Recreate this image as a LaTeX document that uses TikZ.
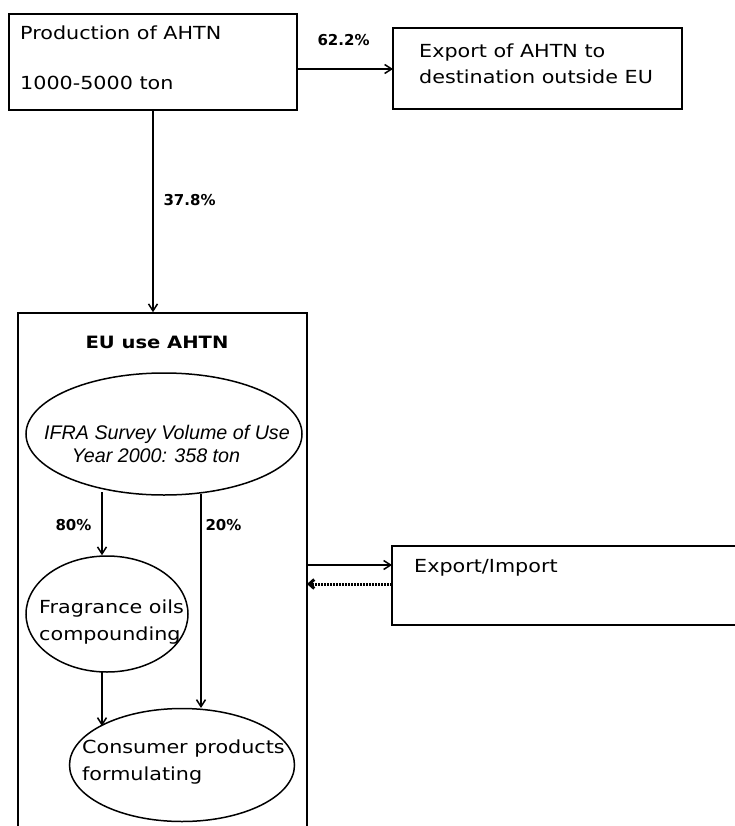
\documentclass[tikz,border=0pt]{standalone}
\usepackage{fontspec}
\setmainfont[FakeStretch=1.15]{DejaVu Sans}
\newfontfamily\lblfont{DejaVu Sans}
\newfontfamily\arialfont{Liberation Sans}
\usetikzlibrary{shapes.geometric,arrows.meta}
\begin{document}
\begin{tikzpicture}[x=1pt,y=-1pt,
  box/.style={draw,line width=1.5pt,inner sep=0pt},
  oval/.style={draw,ellipse,line width=1.5pt,inner sep=0pt},
  lbl/.style={font=\lblfont\fontsize{15}{16}\selectfont\bfseries,anchor=west},
  txt/.style={font=\fontsize{18}{26.5}\selectfont,anchor=west,inner sep=0pt},
  arr/.style={line width=1.5pt,-{Straight Barb[length=7pt,width=9pt]}}]
\useasboundingbox (0,0) rectangle (734,826);
% boxes
\node[box,minimum width=288pt,minimum height=96pt] (prod) at (153,62) {};
\node[txt] (prodt1) at (20,33) {Production of AHTN};
\node[txt] (prodt2) at (20,83) {1000-5000 ton};
\node[box,minimum width=289pt,minimum height=81pt] (exp) at (537.5,68.5) {};
\node[txt,align=left] (expt) at (419,64) {Export of AHTN to\\destination outside EU};
\node[box,minimum width=289pt,minimum height=530pt] (eu) at (162.5,578) {};
\node[font=\fontsize{17}{20}\selectfont\bfseries] (eut) at (157,342) {EU use AHTN};
\node[box,minimum width=360pt,minimum height=79pt] (ei) at (572,585.5) {};
\node[txt] (eit) at (414,568) {Export/Import};
% ellipses
\node[oval,minimum width=276pt,minimum height=122pt] (ifra) at (164,434) {};
\node[font=\arialfont\itshape\fontsize{19.7}{23}\selectfont,align=center] (ifrat) at (167,444) {IFRA Survey Volume of Use\\Year 2000: 358 ton\hspace*{22pt}};
\node[oval,minimum width=162pt,minimum height=116pt] (frag) at (107,614) {};
\node[txt,align=left] (fragt) at (39,622) {Fragrance oils\\compounding};
\node[oval,minimum width=225pt,minimum height=113pt] (cons) at (182,765) {};
\node[txt,align=left] (const) at (82,762) {Consumer products\\formulating};
% connectors
\coordinate (a1) at (297,69);
\coordinate (a2) at (393,69);
\draw[arr] (a1) -- (a2);
\node[lbl] (p62) at (314,40) {62.2\%};
\draw[arr] (prod.south) -- (eu.north -| prod.south);
\node[lbl] (p378) at (160,200) {37.8\%};
\coordinate (b1) at (102,492);
\draw[arr] (b1) -- (frag.north -| b1);
\node[lbl] (p80) at (52,525) {80\%};
\coordinate (c1) at (201,494);
\draw[arr] (c1) -- (201,708);
\node[lbl] (p20) at (202,525) {20\%};
\coordinate (d1) at (102,672);
\draw[arr] (d1) -- (102,726);
\coordinate (e1) at (307,565);
\coordinate (e2) at (392,565);
\draw[arr] (e1) -- (e2);
\coordinate (f1) at (392,584);
\coordinate (f2) at (307,584);
\draw[line width=3pt,dash pattern=on 2pt off 1pt,-{Straight Barb[length=5pt,width=9pt]}] (f1) -- (f2);
\end{tikzpicture}
\end{document}
